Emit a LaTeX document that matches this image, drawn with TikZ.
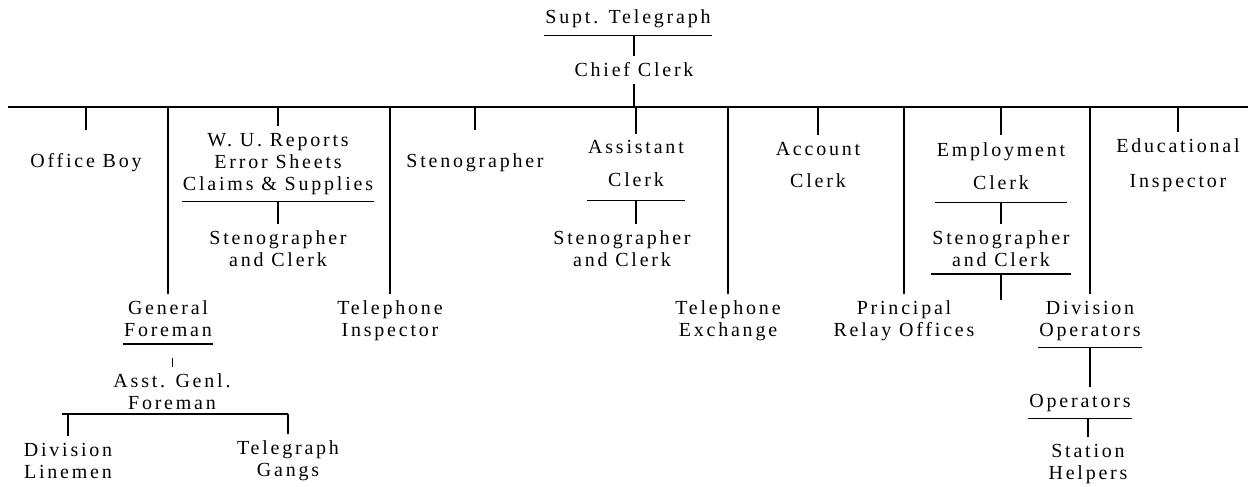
\documentclass[tikz,border=0pt]{standalone}
\usepackage{fontspec}
\setmainfont{Liberation Serif}[LetterSpace=14]
\begin{document}
\begin{tikzpicture}[x=0.025cm,y=-0.025cm,line width=0.8pt]
    \tikzstyle{post}=[align=center, inner xsep=1pt, inner ysep=2pt, outer xsep=0pt, outer ysep=3pt, font=\fontsize{14.2pt}{15.6pt}\selectfont]
    \useasboundingbox (0,0) rectangle (1253,486);
    % head of the office
    \node[post] (supt) at (628,19) {Supt. Telegraph};
    \node[post] (chief) at (634,70) {Chief Clerk};
    \coordinate (barl) at (8,107);
    \coordinate (barr) at (1248,107);
    % left side
    \node[post] (boy) at (86,163) {Office Boy};
    \node[post] (wu) at (278,164) {W. U. Reports\\Error Sheets\\Claims \& Supplies};
    \node[post] (wusc) at (278,249) {Stenographer\\and Clerk};
    \node[post] (gf) at (168,319) {General\\Foreman};
    \node[post] (agf) at (172,392) {Asst. Genl.\\Foreman};
    \coordinate (agfl) at (62,414);
    \coordinate (agfr) at (288,414);
    \node[post] (dl) at (68,461) {Division\\Linemen};
    \node[post] (tg) at (288,461) {Telegraph\\Gangs};
    \node[post] (ti) at (390,321) {Telephone\\Inspector};
    % middle
    \node[post] (sten) at (475,163) {Stenographer};
    \node[post] (ac) at (636,167) {Assistant\\[7.8pt]Clerk\strut};
    \node[post] (acsc) at (622,249) {Stenographer\\and Clerk};
    \node[post] (te) at (728,321) {Telephone\\Exchange};
    \node[post] (acc) at (818,165) {Account\\[7.8pt]Clerk};
    \node[post] (pro) at (904,321) {Principal\\Relay Offices};
    % right side
    \node[post] (ec) at (1001,169) {Employment\\[7.8pt]Clerk\strut};
    \node[post] (ecsc) at (1001,249) {Stenographer\\and Clerk};
    \coordinate (ecend) at (1001,300);
    \node[post] (do) at (1090,321) {Division\\Operators};
    \node[post] (op) at (1080,403) {Operators};
    \node[post] (sh) at (1088,464) {Station\\Helpers};
    \node[post] (ei) at (1178,165) {Educational\\[9pt]Inspector};
    % lines
    \draw (supt.south west) -- (supt.south east);
    \draw (chief.north |- supt.south) -- (chief.north);
    \draw (chief.south) -- (chief.south |- barl);
    \draw (barl) -- (barr);
    \foreach \n in {wu,ac,acc,ec,ei,gf,ti,te,pro,do}
      \draw (\n.north |- barl) -- (\n.north);
    \foreach \n in {boy,sten}
      \draw[shorten >=12pt] (\n.north |- barl) -- (\n.north);
    \foreach \n in {wu,gf,ac,ec,ecsc,do,op}
      \draw (\n.south west) -- (\n.south east);
    \draw (wusc.north |- wu.south) -- (wusc.north);
    \draw[shorten <=10pt, line width=0.5pt] (agf.north |- gf.south) -- (agf.north);
    \draw (ac.south) -- (ac.south |- acsc.north);
    \draw (ec.south) -- (ecsc.north);
    \draw (ecsc.south) -- (ecend);
    \draw (do.south) -- (do.south |- op.north);
    \draw (sh.north |- op.south) -- (sh.north);
    \draw (agfl) -- (agfr);
    \draw (dl.north |- agfl) -- (dl.north);
    \draw (tg.north |- agfl) -- (tg.north);
\end{tikzpicture}
\end{document}
